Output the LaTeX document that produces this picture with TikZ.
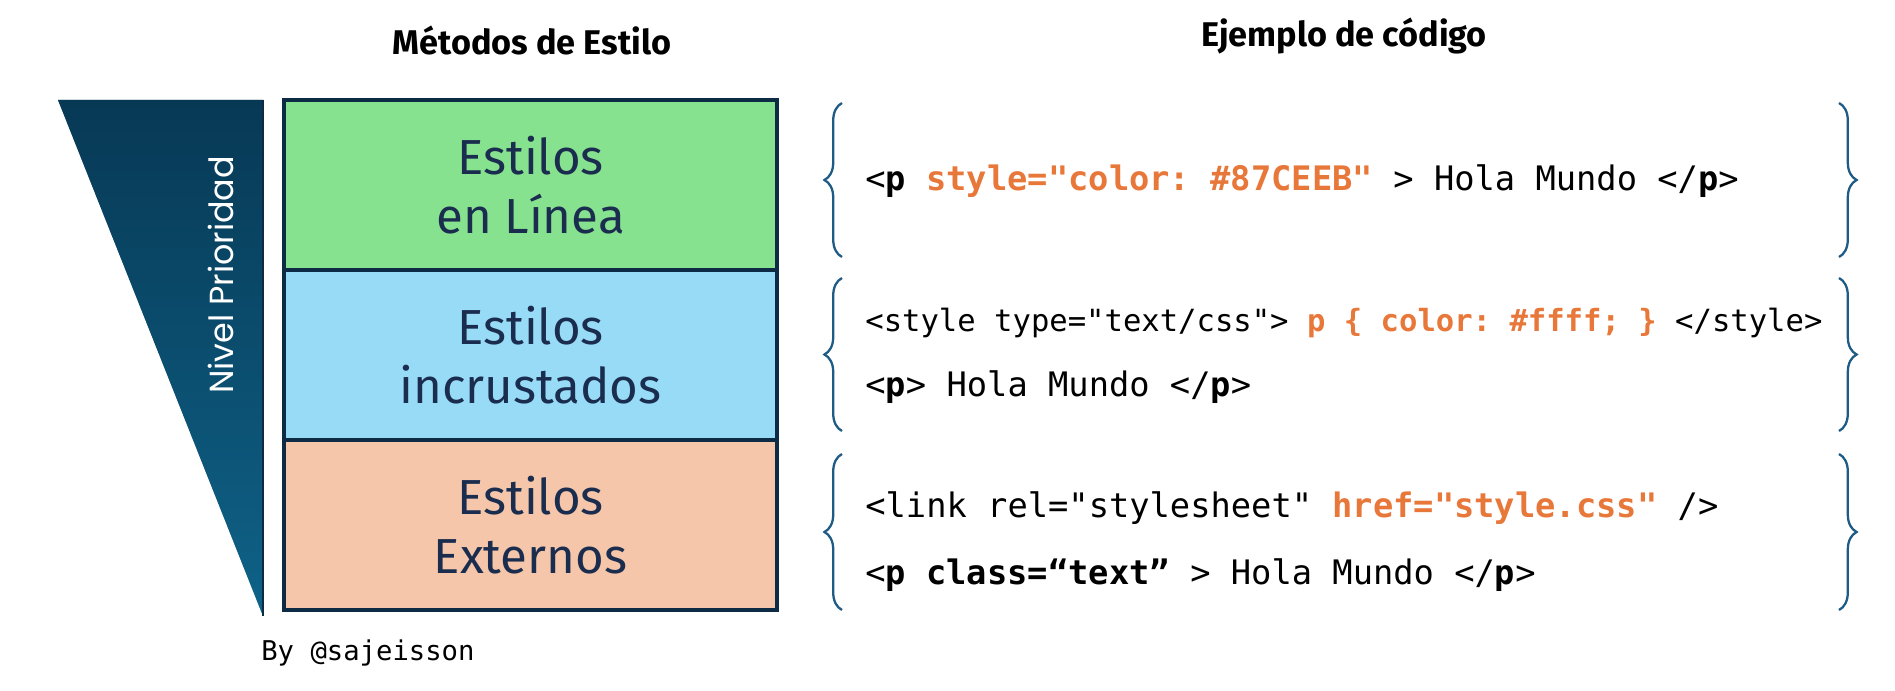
\documentclass[tikz,border=0pt]{standalone}
\usepackage{fontspec}
\setmainfont{Fira Sans}
\setmonofont{DejaVu Sans Mono}
\newfontfamily\navfont{Poppins}
\usetikzlibrary{decorations.pathreplacing}
\definecolor{gr}{HTML}{87E28F}
\definecolor{bl}{HTML}{98DBF7}
\definecolor{pe}{HTML}{F5C6AA}
\definecolor{nv}{HTML}{0D2B45}
\definecolor{tx}{HTML}{1B2D4F}
\definecolor{og}{HTML}{E8773A}
\definecolor{br}{HTML}{1F5C85}
\definecolor{tA}{HTML}{073955}
\definecolor{tB}{HTML}{0F6288}
\newcommand{\og}[1]{\textcolor{og}{\bfseries #1}}
\begin{document}
\begin{tikzpicture}[x=0.02cm,y=0.02cm,
  box/.style={draw=nv,line width=1.8pt,minimum width=493*0.02cm,minimum height=170*0.02cm,inner sep=0pt,align=center,text=tx,font=\fontsize{28}{34}\selectfont},
  code/.style={anchor=west,inner sep=0pt,font=\ttfamily\fontsize{19.2}{22}\selectfont},
  codes/.style={anchor=west,inner sep=0pt,font=\ttfamily\fontsize{17.4}{20}\selectfont},
  ttl/.style={font=\bfseries\fontsize{19.5}{22}\selectfont},
  brc/.style={draw=br,line width=1.3pt,decorate,decoration={brace,amplitude=10pt}}]
\useasboundingbox (0,0) rectangle (1895,690);
% triangle
\shade[left color=tA,right color=tB,shading angle=0] (58,590) -- (263,590) -- (263,74) -- cycle;
\path[top color=tA,bottom color=tB,opacity=0.6] (58,590) -- (263,590) -- (263,74) -- cycle;
\draw[nv,line width=1.5pt] (263,590) -- (263,74);
\node[rotate=90,text=white,font=\navfont\fontsize{19}{22}\selectfont] (niv) at (221,415) {Nivel Prioridad};
% boxes
\node[box,fill=gr] (b1) at (530.5,505) {Estilos\\en Línea};
\node[box,fill=bl] (b2) at (530.5,335) {Estilos\\incrustados};
\node[box,fill=pe] (b3) at (530.5,165) {Estilos\\Externos};
\node[ttl] (t1) at (532,650) {Métodos de Estilo};
\node[ttl] (t2) at (1344,654) {Ejemplo de código};
\node[anchor=west,inner sep=0pt,font=\ttfamily\fontsize{15.5}{18}\selectfont] (by) at (261,37) {By @sajeisson};
% braces
\draw[brc] (842,433) -- (842,587);
\draw[brc] (1839,587) -- (1839,433);
\draw[brc] (842,259) -- (842,412);
\draw[brc] (1839,412) -- (1839,259);
\draw[brc] (842,80) -- (842,236);
\draw[brc] (1839,236) -- (1839,80);
% code
\node[code] (l1) at (865,509) {<\textbf{p} \og{style="color: \#87CEEB"} > Hola Mundo </\textbf{p}>};
\node[codes] (l2) at (865,367) {<style type="text/css"> \og{p \{ color: \#ffff; \}} </style>};
\node[code] (l3) at (865,303) {<\textbf{p}> Hola Mundo </\textbf{p}>};
\node[code] (l4) at (865,182) {<link rel="stylesheet" \og{href="style.css"} />};
\node[code] (l5) at (865,115) {<\textbf{p class=“text”} > Hola Mundo </\textbf{p}>};
\end{tikzpicture}
\end{document}
